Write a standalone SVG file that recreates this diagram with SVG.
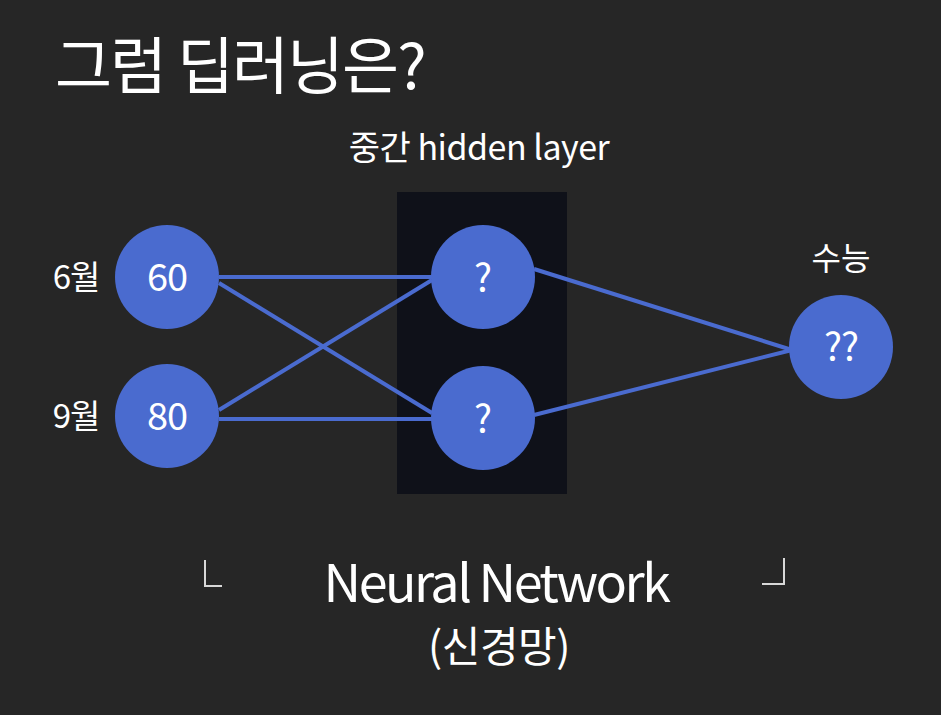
<svg xmlns="http://www.w3.org/2000/svg" width="941" height="715" viewBox="0 0 941 715">
<style>
.t{fill:#ffffff;font-family:"Noto Sans CJK KR","Noto Sans",sans-serif;font-weight:400;}
.n{fill:#4a6bcf;}
.c{stroke:#4a6bcf;stroke-width:4;fill:none;}
.br{stroke:#d8d8d8;stroke-width:2;fill:none;}
</style>
<rect width="941" height="715" fill="#262626"/>
<text class="t" x="55" y="89" font-size="62" font-weight="500" letter-spacing="-2">그럼 딥러닝은?</text>
<rect id="hidden-layer" x="397" y="192" width="170" height="302" fill="#0f1119"/>
<text class="t" x="479" y="160" font-size="34" letter-spacing="-0.5" text-anchor="middle">중간 hidden layer</text>
<g id="connectors">
<line class="c" x1="219" y1="277" x2="432" y2="277"/>
<line class="c" x1="219" y1="283" x2="432" y2="413"/>
<line class="c" x1="219" y1="410" x2="432" y2="280"/>
<line class="c" x1="219" y1="419" x2="432" y2="419"/>
<line class="c" x1="534" y1="269" x2="792" y2="350"/>
<line class="c" x1="534" y1="415" x2="792" y2="350"/>
</g>
<g id="in1">
<text class="t" x="76" y="289" font-size="33" letter-spacing="-1" text-anchor="middle">6월</text>
<circle class="n" cx="167" cy="277" r="52"/>
<text class="t" x="167" y="291" font-size="38" letter-spacing="-1" text-anchor="middle">60</text>
</g>
<g id="in2">
<text class="t" x="76" y="428" font-size="33" letter-spacing="-1" text-anchor="middle">9월</text>
<circle class="n" cx="167" cy="416" r="52"/>
<text class="t" x="167" y="430" font-size="38" letter-spacing="-1" text-anchor="middle">80</text>
</g>
<g id="h1">
<circle class="n" cx="483" cy="277" r="52"/>
<text class="t" x="483" y="292" font-size="38" text-anchor="middle">?</text>
</g>
<g id="h2">
<circle class="n" cx="483" cy="418" r="52"/>
<text class="t" x="483" y="433" font-size="38" text-anchor="middle">?</text>
</g>
<g id="out">
<text class="t" x="841" y="270" font-size="32" text-anchor="middle">수능</text>
<circle class="n" cx="841" cy="347" r="52"/>
<text class="t" x="841" y="361" font-size="38" letter-spacing="-1" text-anchor="middle">??</text>
</g>
<path class="br" d="M205 560 V586 H222"/>
<path class="br" d="M762 584 H784 V558"/>
<text class="t" x="496" y="602" font-size="52" letter-spacing="-2.5" text-anchor="middle">Neural Network</text>
<text class="t" x="499" y="662" font-size="42" letter-spacing="-0.5" text-anchor="middle">(신경망)</text>
</svg>
